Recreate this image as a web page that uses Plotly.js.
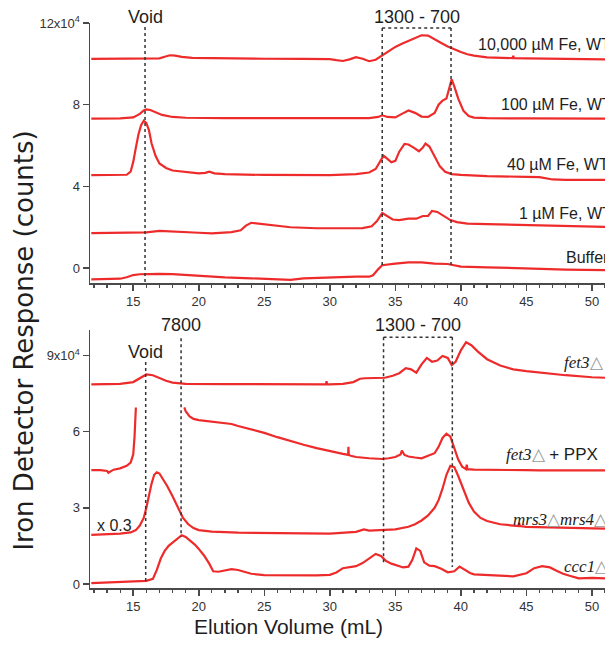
<!DOCTYPE html>
<html>
<head>
<meta charset="utf-8">
<script src="https://cdn.plot.ly/plotly-3.0.1.min.js"></script>
<style>html,body{margin:0;padding:0;background:#fff;}#chart{width:605px;height:649px;}</style>
</head>
<body>
<div id="chart"></div>
<script>
// ---------- DATA (iron detector response, counts; elution volume, mL) ----------
// Top panel: WT cells grown at different Fe concentrations + buffer
var fe10000_x = [11.8,14,16,17,17.4,17.8,18.2,18.7,19.5,22,25,28,30,30.5,31,31.5,32,32.5,33,33.5,34,34.5,35,35.5,36,36.5,37,37.5,38,38.5,39,39.5,40,40.5,41,42,43,43.95,44,44.05,45,47,50,51];
var fe10000_y = [102400,102400,102500,102700,103500,104200,104000,103400,102900,102600,102500,102400,102300,101800,101400,102200,103300,102500,101300,102000,104200,106200,108300,109800,111200,112800,114000,113800,112200,110200,108500,107000,105800,104700,104000,103200,102900,102800,104000,102800,102700,102500,102200,102200];

var fe100_x = [11.8,14,15,15.5,15.8,16,16.3,16.7,17.2,18,19,22,25,28,30,33,33.7,34,34.4,35,35.5,36,36.5,37,37.5,38,38.3,38.6,38.9,39.1,39.3,39.5,39.8,40.2,40.6,41,42,45,50,51];
var fe100_y = [73200,73300,73800,75500,77200,77700,77400,76200,75000,74000,73600,73400,73400,73300,73300,73400,74000,74800,74000,73800,75500,77200,76000,74200,74000,76000,80000,82000,83000,87500,92400,89000,83000,77000,74500,73700,73400,73300,73200,73200];

var fe40_x = [11.8,13,14,14.5,14.8,15.0,15.2,15.4,15.6,15.8,16.0,16.2,16.4,16.7,17,17.5,18,19,20,20.5,20.8,21.2,22,25,28,30,32,33,33.5,33.8,34.1,34.4,34.7,35.0,35.3,35.7,36.0,36.4,36.8,37.1,37.3,37.6,38.0,38.4,38.8,39.3,40,42,45,46,47,48,50,51];
var fe40_y = [45500,45600,45500,45700,47200,52000,59000,65500,70000,72200,71000,67500,61000,55000,51200,49000,47800,47000,46400,46600,47200,46400,46000,45600,45500,45500,46000,46800,48500,52000,55000,53500,51800,52500,57000,60800,60500,59000,57200,59000,61000,59500,54500,49800,47200,46000,45600,45000,44700,44500,43400,43200,43200,43200];

var fe1_x = [11.8,14,16,17,18,20,21,22.5,23.2,23.6,24,24.5,25.5,27,29,31,32.5,33.2,33.6,34,34.4,34.8,35.3,36,36.6,37.1,37.5,37.8,38.2,38.7,39.2,39.7,40.5,42,45,48,51];
var fe1_y = [17100,17200,17500,18200,18000,17300,17000,17600,18500,20800,22200,21800,21000,20000,19500,19600,19600,20500,23000,27000,25500,23800,23500,24200,24200,25500,25500,28000,27500,25500,23500,22500,21800,21500,21000,20500,20200];

var buffer_x = [11.8,13,14,14.5,15,15.5,16,17,18,19,20,22,24,26,27,28,30,32,33,33.3,33.7,34,35,36,37,38,39,39.5,40,42,45,48,51];
var buffer_y = [-5500,-5500,-5200,-4500,-3400,-3000,-2900,-2800,-2900,-3300,-4000,-4500,-5000,-5500,-5800,-5000,-4500,-4200,-4200,-3500,-500,1400,2200,2800,2800,2200,2000,1200,700,400,-200,-700,-1000];

// Bottom panel: mutant strains
var fet3_x = [11.8,14,15,15.5,16,16.5,17,17.5,18,19,22,25,28,29.7,29.75,29.8,30,31,31.8,32.3,32.7,33.5,34.2,34.8,35.3,35.8,36.2,36.6,37.0,37.4,37.8,38.2,38.6,39.0,39.3,39.6,40.0,40.4,40.8,41.3,42,43,44,45,46,48,50,51];
var fet3_y = [78600,78800,79500,81000,82500,82200,81000,80000,79300,78800,78700,78600,78600,78600,79800,78600,78600,78800,79500,80800,81000,81000,81200,82000,83000,85000,84500,83200,86500,89000,87500,88000,89800,89000,86200,87500,92000,95200,94000,91500,88500,86000,84500,83800,83200,82200,81400,81200];

var ppx_a_x = [11.8,12.5,13,13.1,13.5,14,14.5,14.8,15.0,15.1,15.2];
var ppx_a_y = [44800,44800,44500,43800,45000,45500,46500,47800,51000,58000,69500];
var ppx_b_x = [18.9,19.0,19.3,19.6,20,21,22,22.5,23,24,25,26,27,28,29,30,31,31.4,31.42,31.45,31.6,32,33,34,34.5,35,35.4,35.5,35.7,36,36.5,37,37.5,38,38.3,38.6,38.9,39.2,39.5,39.8,40.1,40.4,40.45,40.5,41,42,43,45,46,47,48,50,51];
var ppx_b_y = [69500,68000,66000,65000,64500,64000,63300,63000,62200,61000,59500,57800,56200,54800,53500,52200,51200,50800,54000,50800,50500,50000,49500,49200,49500,50000,51000,52500,50800,50200,49800,49500,50500,51500,54000,57500,59200,58000,53500,49000,46200,45200,47000,45200,45000,45000,44900,44800,44700,44800,44700,44700,44700];

var mrs_x = [11.8,13,14,14.8,15.2,15.5,15.8,16.0,16.2,16.4,16.6,16.8,17.0,17.3,17.6,18.0,18.4,18.8,19.2,19.6,20,21,23,25,28,30,32,32.6,33,34,35,36,36.5,37,37.5,38,38.3,38.6,38.9,39.2,39.5,39.8,40.2,40.6,41,41.5,42,43,44,44.4,44.45,44.5,45,47,50,51];
var mrs_y = [19300,19500,19800,20300,21200,23000,26000,30000,35000,39500,43000,44000,43500,41000,38500,34500,30000,26000,23500,22000,21200,20600,20200,20000,19800,19800,20500,21500,21000,21200,21500,22500,23500,25000,27000,30000,33000,37500,43000,46500,46000,42500,37000,32000,28500,26000,24800,23500,23000,22800,24000,22800,22500,22200,21800,21800];

var ccc1_x = [11.8,13,14,15,16,16.5,16.8,17.1,17.4,17.7,18.0,18.4,18.7,19.0,19.3,19.7,20.0,20.4,20.8,21.1,21.5,22,22.5,23,23.5,24,25,27,29,30,30.5,31,31.5,32,32.5,33,33.5,33.9,34.3,34.7,35.1,35.6,36.0,36.3,36.6,36.9,37.2,37.6,38,38.5,39,39.5,39.9,40.3,40.7,41,42,43,44,45,45.6,46.2,46.8,47.3,47.8,48.3,48.7,49,50,51];
var ccc1_y = [300,600,900,1000,1200,2000,5500,10000,13000,15000,16200,18000,19200,18500,17200,15500,13800,11200,8000,5000,4800,5200,5800,5500,4800,4000,3500,3400,3400,3600,4500,6200,6600,7000,8200,10000,11800,11000,9000,8000,7200,6500,6800,9500,14000,13000,8500,7200,7000,6000,4600,5000,6800,5500,4300,3800,3500,3200,3000,4200,6200,7000,6500,5200,4000,3200,2800,2200,2400,2200];

// Tick labels
var xTickVals = [15,20,25,30,35,40,45,50];
var topTickVals = [0,40000,80000,120000];
var topTickText = ['0','4','8','12x10<sup>4</sup>'];
var botTickVals = [0,30000,60000,90000];
var botTickText = ['0','3','6','9x10<sup>4</sup>'];

// ---------- STYLE ----------
var RED = '#ee2b2b';
var AX = '#4a4a4a';
var lineStyle = {color: RED, width: 2.2};

function tr(x, y, xa, ya) {
  return {x: x, y: y, xaxis: xa, yaxis: ya, type: 'scatter', mode: 'lines',
          line: lineStyle, showlegend: false, hoverinfo: 'skip'};
}

var data = [
  tr(fe10000_x, fe10000_y, 'x2', 'y2'),
  tr(fe100_x, fe100_y, 'x2', 'y2'),
  tr(fe40_x, fe40_y, 'x2', 'y2'),
  tr(fe1_x, fe1_y, 'x2', 'y2'),
  tr(buffer_x, buffer_y, 'x2', 'y2'),
  tr(fet3_x, fet3_y, 'x', 'y'),
  tr(ppx_a_x, ppx_a_y, 'x', 'y'),
  tr(ppx_b_x, ppx_b_y, 'x', 'y'),
  tr(mrs_x, mrs_y, 'x', 'y'),
  tr(ccc1_x, ccc1_y, 'x', 'y')
];

function xAxis(anchor) {
  return {
    anchor: anchor, domain: [0, 1], range: [11.7, 51.0],
    tickvals: xTickVals, showline: true, linecolor: AX, linewidth: 1.5,
    ticks: 'outside', ticklen: 6, tickwidth: 1.5, tickcolor: AX,
    minor: {dtick: 1, tick0: 0, ticks: 'outside', ticklen: 3, tickwidth: 1.2, tickcolor: AX, showgrid: false},
    tickfont: {family: 'Liberation Sans, Arial, sans-serif', size: 13, color: '#333'},
    showgrid: false, zeroline: false, fixedrange: true
  };
}
function yAxis(anchor, domain, range, vals, text) {
  return {
    anchor: anchor, domain: domain, range: range,
    tickvals: vals, ticktext: text, showline: true, linecolor: AX, linewidth: 1.5,
    ticks: 'outside', ticklen: 6, tickwidth: 1.5, tickcolor: AX,
    tickfont: {family: 'Liberation Sans, Arial, sans-serif', size: 13, color: '#333'},
    showgrid: false, zeroline: false, fixedrange: true
  };
}

var dot = {color: '#333', width: 1.5, dash: 'dot'};
function seg(xref, yref, x0, y0, x1, y1) {
  return {type: 'line', xref: xref, yref: yref, x0: x0, y0: y0, x1: x1, y1: y1, line: dot, layer: 'above'};
}
var shapes = [
  // top panel
  seg('x2', 'y2', 15.9, 118000, 15.9, -7300),
  seg('x2', 'y2', 34.0, 117500, 34.0, 1500),
  seg('x2', 'y2', 39.25, 117500, 39.25, 1500),
  seg('x2', 'y2', 34.0, 117500, 39.25, 117500),
  // bottom panel
  seg('x', 'y', 15.95, 87400, 15.95, 900),
  seg('x', 'y', 18.65, 96800, 18.65, 18500),
  seg('x', 'y', 34.1, 97200, 34.1, 7500),
  seg('x', 'y', 39.35, 97200, 39.35, 6700),
  seg('x', 'y', 34.1, 97200, 39.35, 97200)
];

var SANS = 'Liberation Sans, Arial, sans-serif';
var TXT = '#1e1e1e';
function lab(text, xref, yref, x, y, size, xanchor) {
  return {text: text, xref: xref, yref: yref, x: x, y: y, showarrow: false,
          xanchor: xanchor || 'left', yanchor: 'middle',
          font: {family: SANS, size: size, color: TXT}};
}
var TRI = '<span style="color:#9a9a9a">△</span>';
function gene(g) { return '<span style="font-family:Liberation Serif"><i>' + g + '</i></span>'; }

var annotations = [
  lab('Void', 'x2', 'paper', 15.9, 1.0106, 18, 'center'),
  lab('1300 - 700', 'x2', 'paper', 36.65, 1.0106, 18, 'center'),
  lab('10,000 µM Fe, WT', 'x2', 'y2', 41.15, 109400, 16),
  lab('100 µM Fe, WT', 'x2', 'y2', 42.9, 79900, 16),
  lab('40 µM Fe, WT', 'x2', 'y2', 43.35, 50500, 16),
  lab('1 µM Fe, WT', 'x2', 'y2', 44.3, 26500, 16),
  lab('Buffer', 'x2', 'y2', 47.9, 5400, 16),
  lab('7800', 'x', 'paper', 18.65, 0.4655, 18, 'center'),
  lab('1300 - 700', 'x', 'paper', 36.74, 0.4655, 18, 'center'),
  lab('Void', 'x', 'y', 15.97, 91300, 18, 'center'),
  lab('x 0.3', 'x', 'y', 12.05, 23200, 16),
  lab(gene('fet3') + TRI, 'x', 'y', 47.7, 87400, 17),
  lab(gene('fet3') + TRI + ' + PPX', 'x', 'y', 43.3, 50800, 17),
  lab(gene('mrs3') + TRI + gene('mrs4') + TRI, 'x', 'y', 43.8, 25200, 17),
  lab(gene('ccc1') + TRI, 'x', 'y', 47.7, 6700, 17),
  // axis titles
  {text: 'Elution Volume (mL)', xref: 'paper', yref: 'paper', x: 0.385, y: -0.069,
   showarrow: false, xanchor: 'center', yanchor: 'middle',
   font: {family: SANS, size: 21, color: TXT}},
  {text: 'Iron Detector Response (counts)', xref: 'paper', yref: 'paper', x: -0.13, y: 0.438,
   showarrow: false, xanchor: 'center', yanchor: 'middle', textangle: -90,
   font: {family: 'DejaVu Sans, sans-serif', size: 26, color: TXT}}
];

var layout = {
  width: 605, height: 649,
  margin: {l: 90, r: 0, t: 23, b: 61, pad: 0},
  paper_bgcolor: '#fff', plot_bgcolor: '#fff',
  showlegend: false,
  xaxis: xAxis('y'),
  xaxis2: xAxis('y2'),
  yaxis: yAxis('x', [0, 0.4566], [-1600, 100000], botTickVals, botTickText),
  yaxis2: yAxis('x2', [0.5398, 1], [-7300, 120000], topTickVals, topTickText),
  shapes: shapes,
  annotations: annotations
};

Plotly.newPlot('chart', data, layout, {staticPlot: true, displayModeBar: false});
</script>
</body>
</html>
